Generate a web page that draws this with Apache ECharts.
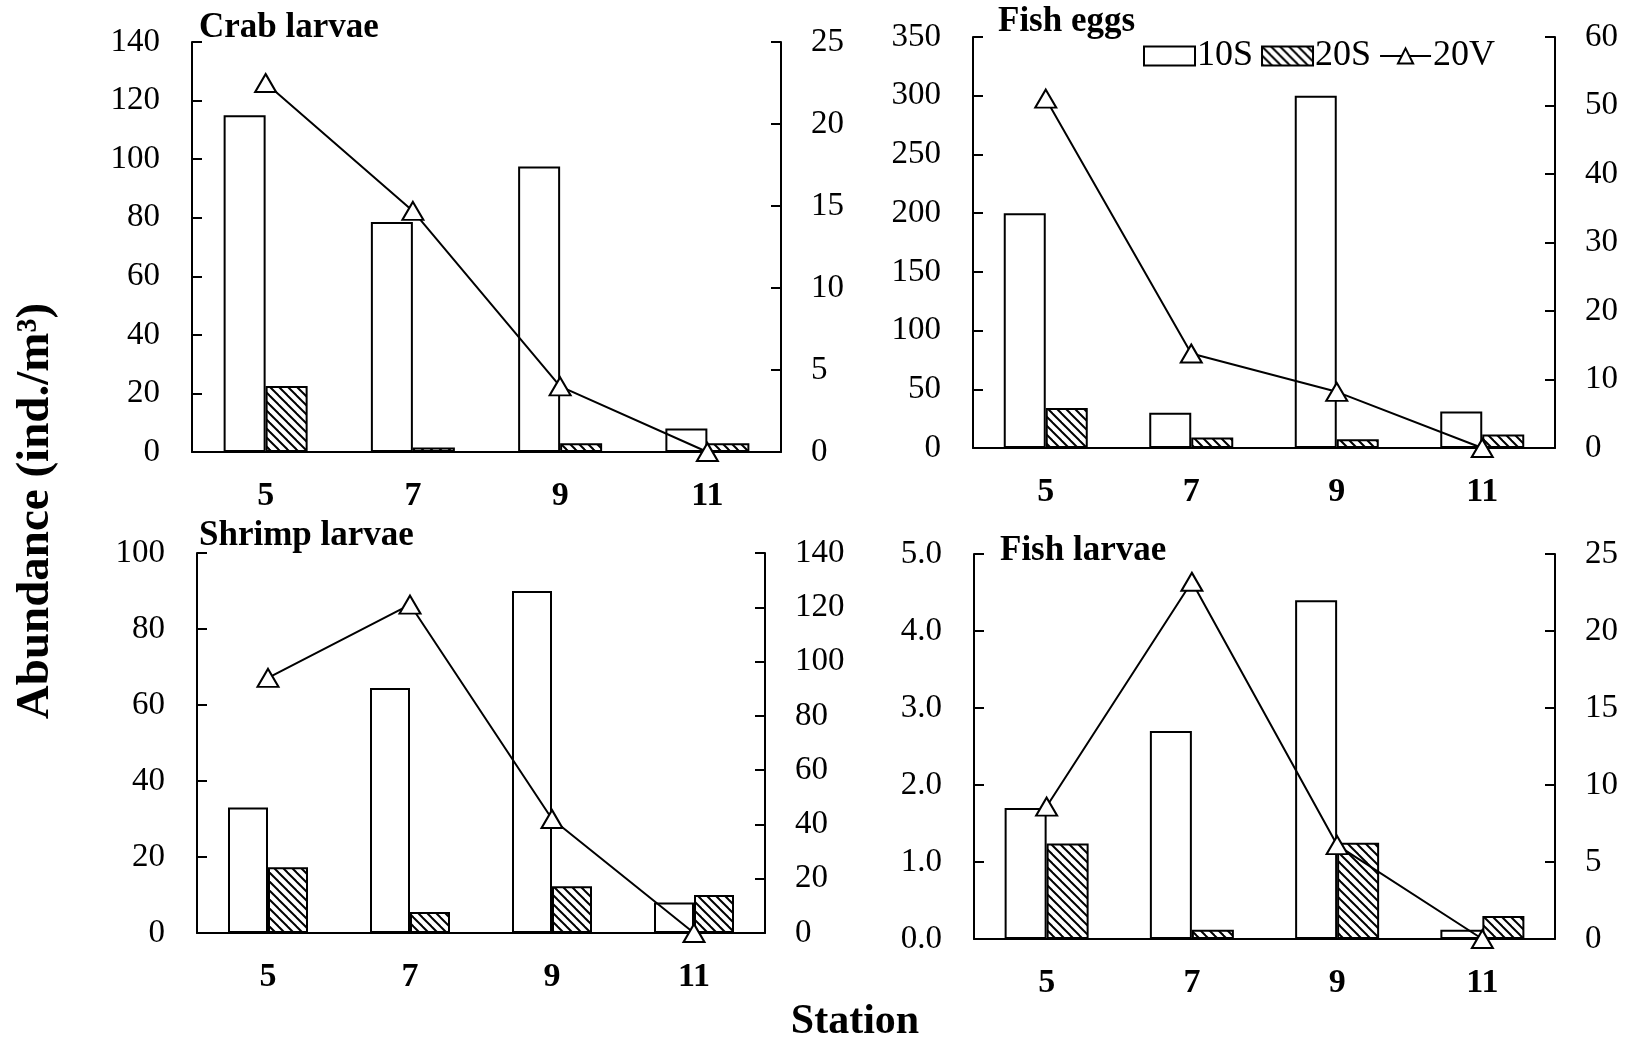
<!DOCTYPE html>
<html>
<head>
<meta charset="utf-8">
<script src="https://cdn.jsdelivr.net/npm/echarts@6/dist/echarts.min.js"></script>
<style>
html,body{margin:0;padding:0;background:#fff;}
#chart{width:1627px;height:1040px;}
</style>
</head>
<body>
<div id="chart"></div>
<script>
// ---- data ----
const stations = ['5', '7', '9', '11'];
const seriesNames = ['10S', '20S', '20V'];

const crab10S = [115, 78.5, 97.5, 8];
const crab20S = [22.5, 1.5, 3, 3];
const crab20V = [22.5, 14.7, 4.0, 0];

const eggs10S = [200, 30, 300, 31];
const eggs20S = [34, 9, 7.5, 11.5];
const eggs20V = [51, 13.8, 8.2, 0];

const shrimp10S = [33, 64.5, 90, 8];
const shrimp20S = [17.3, 5.5, 12.3, 10];
const shrimp20V = [94, 121, 42, 0];

const fishLarvae10S = [1.7, 2.7, 4.4, 0.12];
const fishLarvae20S = [1.24, 0.12, 1.25, 0.3];
const fishLarvae20V = [8.6, 23.2, 6.1, 0];

const panelTitles = ['Crab larvae', 'Fish eggs', 'Shrimp larvae', 'Fish larvae'];
const leftAxes = [[0, 140, 20], [0, 350, 50], [0, 100, 20], [0, 5, 1]];
const rightAxes = [[0, 25, 5], [0, 60, 10], [0, 140, 20], [0, 25, 5]];
const yAxisTitle = 'Abundance (ind./m³)';
const xAxisTitle = 'Station';

const panelData = [
  [crab10S, crab20S, crab20V],
  [eggs10S, eggs20S, eggs20V],
  [shrimp10S, shrimp20S, shrimp20V],
  [fishLarvae10S, fishLarvae20S, fishLarvae20V]
];

// ---- layout / style ----
const FONT = 'Liberation Serif, Times New Roman, serif';
const grids = [
  {left: 192, top: 42, width: 589, height: 410},
  {left: 973, top: 37, width: 582, height: 411},
  {left: 197, top: 553, width: 568, height: 380},
  {left: 974, top: 554, width: 581, height: 385}
];
const barWidths = [42, 42, 40, 42];
const titlePos = [[199, 28], [998, 22], [199, 536], [1000, 551]];
const leftDecimals = [0, 0, 0, 1];

// hatch pattern
function makeHatch() {
  const s = 9;
  const c = document.createElement('canvas');
  c.width = s; c.height = s;
  const ctx = c.getContext('2d');
  ctx.fillStyle = '#fff';
  ctx.fillRect(0, 0, s, s);
  ctx.strokeStyle = '#000';
  ctx.lineWidth = 2;
  for (const k of [-s, 0, s]) {
    ctx.beginPath();
    ctx.moveTo(k - 1, -1);
    ctx.lineTo(k + s + 1, s + 1);
    ctx.stroke();
  }
  return c;
}
const hatch = makeHatch();

const xAxes = [], yAxes = [], series = [], graphics = [];
grids.forEach((g, i) => {
  xAxes.push({
    type: 'category', gridIndex: i, data: stations,
    axisLine: {lineStyle: {color: '#000', width: 2}},
    axisTick: {inside: true, length: 11, lineStyle: {color: '#000', width: 2}},
    axisLabel: {color: '#000', fontFamily: FONT, fontSize: 34, fontWeight: 'bold', margin: 27},
    splitLine: {show: false}
  });
  const L = leftAxes[i], R = rightAxes[i];
  yAxes.push({
    type: 'value', gridIndex: i, position: 'left', min: L[0], max: L[1], interval: L[2],
    axisLine: {show: true, lineStyle: {color: '#000', width: 2}},
    axisTick: {show: true, inside: true, length: 10, lineStyle: {color: '#000', width: 2}},
    axisLabel: {color: '#000', fontFamily: FONT, fontSize: 33, margin: 32,
      formatter: v => v.toFixed(leftDecimals[i])},
    splitLine: {show: false}
  });
  yAxes.push({
    type: 'value', gridIndex: i, position: 'right', min: R[0], max: R[1], interval: R[2],
    axisLine: {show: true, lineStyle: {color: '#000', width: 2}},
    axisTick: {show: true, inside: true, length: 10, lineStyle: {color: '#000', width: 2}},
    axisLabel: {color: '#000', fontFamily: FONT, fontSize: 33, margin: 30},
    splitLine: {show: false}
  });
  const d = panelData[i];
  series.push({
    name: seriesNames[0], type: 'bar', xAxisIndex: i, yAxisIndex: 2 * i,
    data: d[0], barWidth: barWidths[i], barGap: '0%',
    itemStyle: {color: '#fff', borderColor: '#000', borderWidth: 2},
    emphasis: {disabled: true}
  });
  series.push({
    name: seriesNames[1], type: 'bar', xAxisIndex: i, yAxisIndex: 2 * i,
    data: d[1], barWidth: barWidths[i], barGap: '0%',
    itemStyle: {color: {image: hatch, repeat: 'repeat'}, borderColor: '#000', borderWidth: 2},
    emphasis: {disabled: true}
  });
  series.push({
    name: seriesNames[2], type: 'line', xAxisIndex: i, yAxisIndex: 2 * i + 1,
    data: d[2], symbol: 'triangle', symbolSize: [21, 18], z: 5,
    lineStyle: {color: '#000', width: 2},
    itemStyle: {color: '#fff', borderColor: '#000', borderWidth: 2},
    emphasis: {disabled: true}
  });
  graphics.push({
    type: 'text', x: titlePos[i][0], y: titlePos[i][1],
    style: {text: panelTitles[i], font: 'bold 35px ' + FONT, fill: '#000',
      textAlign: 'left', textVerticalAlign: 'middle'}
  });
});

graphics.push({
  type: 'text', x: 36, y: 511, rotation: Math.PI / 2,
  style: {text: yAxisTitle, font: 'bold 47px ' + FONT, fill: '#000',
    textAlign: 'center', textVerticalAlign: 'middle'}
});
graphics.push({
  type: 'text', x: 855, y: 1022,
  style: {text: xAxisTitle, font: 'bold 42px ' + FONT, fill: '#000',
    textAlign: 'center', textVerticalAlign: 'middle'}
});

const chart = echarts.init(document.getElementById('chart'), null, {renderer: 'canvas'});
chart.setOption({
  animation: false,
  backgroundColor: '#fff',
  grid: grids,
  xAxis: xAxes,
  yAxis: yAxes,
  series: series,
  graphic: graphics,
  legend: {
    data: [{name: seriesNames[0], icon: 'rect'}, {name: seriesNames[1], icon: 'rect'}, {name: seriesNames[2]}],
    left: 1138, top: 33,
    itemWidth: 51, itemHeight: 19, itemGap: 8,
    textStyle: {color: '#000', fontFamily: FONT, fontSize: 36, padding: [0, 0, 0, -3]},
    selectedMode: false
  }
});
</script>
</body>
</html>
